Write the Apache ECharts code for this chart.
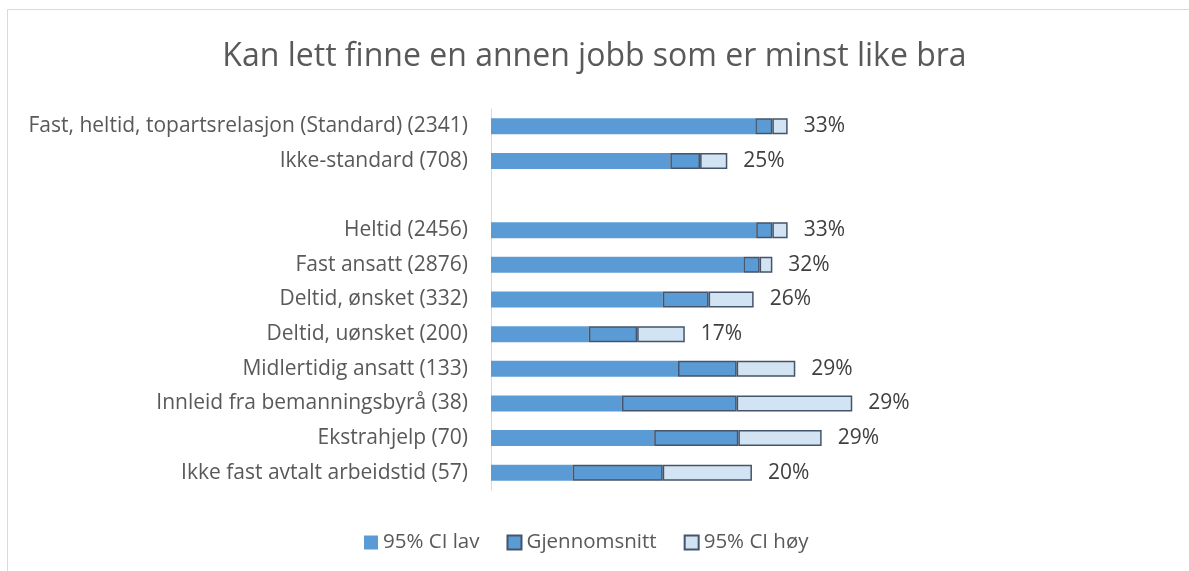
<!DOCTYPE html>
<html>
<head>
<meta charset="utf-8">
<script src="https://cdn.jsdelivr.net/npm/echarts@6/dist/echarts.min.js"></script>
<style>
  html, body { margin: 0; padding: 0; background: #fff; }
  #chart { width: 1189px; height: 571px; }
</style>
</head>
<body>
<div id="chart"></div>
<script>
  // Kategorier (tom streng = mellomrom mellom gruppene)
  var categories = [
    "Fast, heltid, topartsrelasjon (Standard) (2341)",
    "Ikke-standard (708)",
    "",
    "Heltid (2456)",
    "Fast ansatt (2876)",
    "Deltid, ønsket (332)",
    "Deltid, uønsket (200)",
    "Midlertidig ansatt (133)",
    "Innleid fra bemanningsbyrå (38)",
    "Ekstrahjelp (70)",
    "Ikke fast avtalt arbeidstid (57)"
  ];

  // Andel i prosent, lest av figuren
  var ciLow  = [31.1, 21.1, null, 31.2, 29.7, 20.2, 11.5, 22.0, 15.4, 19.2,  9.6];
  var mean   = [33.1, 24.6, null, 33.1, 31.6, 25.6, 17.2, 28.9, 28.9, 29.1, 20.2];
  var ciHigh = [34.9, 27.8, null, 34.9, 33.1, 30.9, 22.8, 35.8, 42.5, 38.9, 30.7];

  var seriesNames = ["95% CI lav", "Gjennomsnitt", "95% CI høy"];

  var font = "'Open Sans', 'DejaVu Sans', sans-serif";
  var edge = "#44546A";

  function diff(a, b) {
    return a.map(function (v, i) {
      return v == null ? "-" : +(v - b[i]).toFixed(2);
    });
  }

  var chart = echarts.init(document.getElementById("chart"));
  chart.setOption({
    animation: false,
    textStyle: { fontFamily: font },
    title: {
      text: "Kan lett finne en annen jobb som er minst like bra",
      left: "center",
      top: 36,
      textStyle: { fontFamily: font, fontSize: 32, fontWeight: "normal", color: "#595959" }
    },
    graphic: [{
      type: "rect",
      shape: { x: 7.5, y: 9.5, width: 1300, height: 700 },
      style: { fill: "none", stroke: "#D9D9D9", lineWidth: 1 },
      silent: true
    }],
    legend: {
      bottom: 13,
      left: 359,
      icon: "rect",
      itemWidth: 14,
      itemHeight: 14,
      itemGap: 27,
      textStyle: { fontFamily: font, fontSize: 20.5, color: "#595959" },
      data: seriesNames
    },
    grid: { left: 491, right: 188, top: 109, bottom: 81, containLabel: false },
    xAxis: {
      type: "value",
      min: 0,
      max: 60,
      show: false
    },
    yAxis: {
      type: "category",
      inverse: true,
      data: categories,
      axisLine: { show: true, lineStyle: { color: "#D9D9D9", width: 1 } },
      axisTick: { show: false },
      axisLabel: { margin: 23, fontFamily: font, fontSize: 21, color: "#595959" }
    },
    series: [
      {
        name: seriesNames[0],
        type: "bar",
        stack: "ci",
        barWidth: 16,
        itemStyle: { color: "#5B9BD5" },
        data: ciLow.map(function (v) { return v == null ? "-" : v; })
      },
      {
        name: seriesNames[1],
        type: "bar",
        stack: "ci",
        barWidth: 16,
        itemStyle: { color: "#5B9BD5", borderColor: edge, borderWidth: 1.5 },
        data: diff(mean, ciLow)
      },
      {
        name: seriesNames[2],
        type: "bar",
        stack: "ci",
        barWidth: 16,
        itemStyle: { color: "#D2E3F3", borderColor: edge, borderWidth: 1.5 },
        label: {
          show: true,
          position: "right",
          distance: 16,
          fontFamily: font,
          fontSize: 21,
          color: "#404040",
          formatter: function (p) {
            var m = mean[p.dataIndex];
            return m == null ? "" : Math.round(m) + "%";
          }
        },
        data: diff(ciHigh, mean)
      }
    ]
  });
</script>
</body>
</html>
